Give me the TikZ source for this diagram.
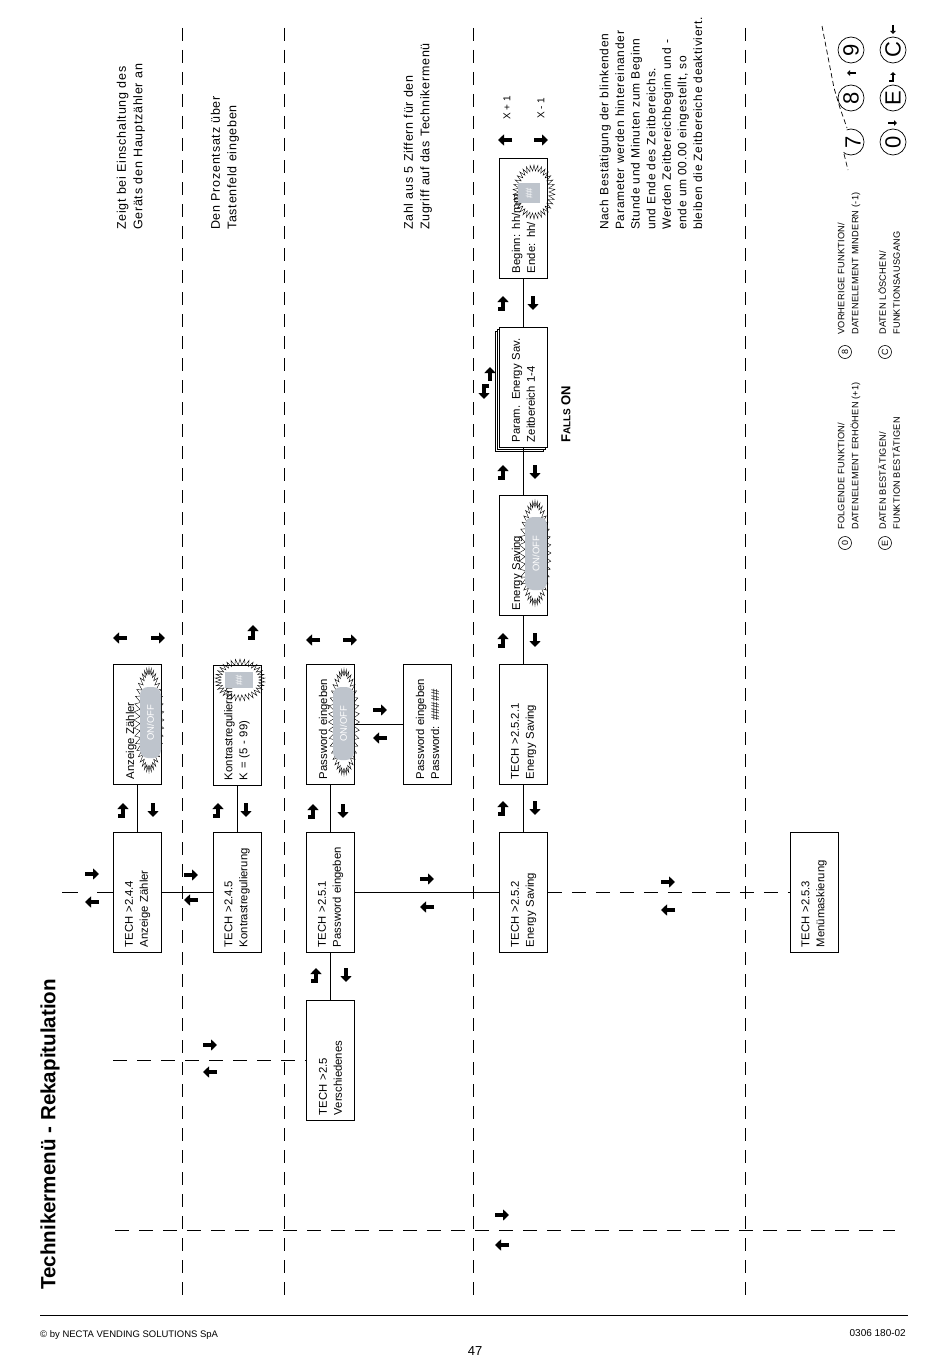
\documentclass[tikz,border=0pt]{standalone}
\usepackage{fontspec}
\setmainfont{Liberation Sans}
\newfontfamily\notefont[LetterSpace=6]{Liberation Sans}
\newfontfamily\legfont[LetterSpace=3]{Liberation Sans}
\usetikzlibrary{shapes.symbols,arrows.meta}
\definecolor{swgray}{RGB}{190,196,204}
\newcommand\arwR[2]{\draw[arw] ({#1-7},{#2}) -- ({#1+7},{#2});}
\newcommand\arwL[2]{\draw[arw] ({#1+7},{#2}) -- ({#1-7},{#2});}
\newcommand\arwD[2]{\draw[arw] ({#1},{#2-7}) -- ({#1},{#2+7});}
\newcommand\arwU[2]{\draw[arw] ({#1},{#2+7}) -- ({#1},{#2-7});}
\newcommand\arwH[2]{\draw[arw] ({#1-5},{#2+6}) -- ({#1},{#2+6}) -- ({#1},{#2-7});}
\newcommand\arwHD[2]{\draw[arw] ({#1+5},{#2-6}) -- ({#1},{#2-6}) -- ({#1},{#2+7});}
\begin{document}
\begin{tikzpicture}[x=1pt,y=-1pt,
  box/.style={draw, line width=0.8pt, rotate=90, minimum width=120pt, minimum height=48pt, text width=110pt, align=left, inner sep=0pt, font=\fontsize{11.3}{15}\selectfont},
  conn/.style={line width=0.7pt},
  dconn/.style={line width=0.7pt, dash pattern=on 14pt off 10pt},
  gridl/.style={line width=0.7pt, dash pattern=on 13pt off 9pt},
  arw/.style={line width=3.8pt, line join=miter, -{Triangle[length=6pt,width=11pt]}},
  arws/.style={line width=1.6pt, -{Triangle[length=3pt,width=5.5pt]}},
  burst/.style={starburst, random starburst=0, starburst points=40, starburst point height=6pt, draw, line width=0.4pt, fill=white, inner sep=0pt},
  swbox/.style={fill=swgray, rounded corners=8pt, rotate=90, text=white, inner sep=0pt, font=\fontsize{9.5}{9.5}\selectfont},
  note/.style={rotate=90, anchor=west, align=left, inner sep=0pt, font=\notefont\fontsize{12.5}{16.5}\selectfont},
  leg/.style={rotate=90, anchor=west, align=left, inner sep=0pt, font=\legfont\fontsize{9.2}{14}\selectfont},
  lcirc/.style={circle, draw, line width=0.6pt, inner sep=0pt, minimum size=13pt, rotate=90, font=\fontsize{9}{9}\selectfont},
  kcirc/.style={circle, draw, line width=0.7pt, inner sep=0pt, minimum size=26pt, rotate=90, font=\fontsize{22}{22}\selectfont},
]
\useasboundingbox (0,0) rectangle (950,1370);

% column separators
\foreach \gx in {182,284,473,745} \draw[gridl] (\gx,28) -- (\gx,1300);

% starbursts
\node[burst, minimum width=30pt, minimum height=104pt] (sb1) at (149,720) {};
\node[burst, starburst points=34, minimum width=50pt, minimum height=42pt] (sb2) at (240,680) {};
\node[burst, minimum width=31pt, minimum height=106pt] (sb3) at (344,722) {};
\node[burst, minimum width=32pt, minimum height=105pt] (sb4) at (535,553) {};
\node[burst, starburst points=34, minimum width=42pt, minimum height=54pt] (sb5) at (534,192) {};

% boxes
\node[box] (b244) at (137.5,892) {TECH >2.4.4\\Anzeige Zähler};
\node[box] (anz) at (137.5,724) {Anzeige Zähler\\~};
\node[box] (b245) at (237,892) {TECH >2.4.5\\Kontrastregulierung};
\node[box] (kon) at (237,725) {Kontrastregulierung\\K = (5 - 99)};
\node[box] (b251) at (330.5,892) {TECH >2.5.1\\Password eingeben};
\node[box] (pw) at (330.5,724) {Password eingeben\\~};
\node[box] (pwn) at (427.5,724) {Password eingeben\\Password: \#\#\#\#\#};
\node[box] (b25) at (330.5,1060) {TECH >2.5\\Verschiedenes};
\node[box] (b252) at (523.5,892) {TECH >2.5.2\\Energy Saving};
\node[box] (b2521) at (523.5,724) {TECH >2.5.2.1\\Energy Saving};
\node[box] (es) at (523.5,555) {Energy Saving\\~};
\node[box, fill=white] (par3) at (519.5,391) {};
\node[box, fill=white] (par2) at (521.5,389) {};
\node[box, fill=white] (par) at (523.5,387) {Param. Energy Sav.\\Zeitbereich 1-4};
\node[box] (beg) at (523.5,218) {Beginn: hh/mm\\Ende: hh/};
\node[box] (b253) at (814,892) {TECH >2.5.3\\Menümaskierung};

% grey value fields
\node[swbox, minimum width=71pt, minimum height=21pt] (sw1) at (150.5,722.5) {ON/OFF};
\node[swbox, rounded corners=0pt, minimum width=16pt, minimum height=28pt] (sw2) at (239,680) {\#\#};
\node[swbox, minimum width=73pt, minimum height=21pt] (sw3) at (343.5,723.5) {ON/OFF};
\node[swbox, minimum width=73pt, minimum height=22pt] (sw4) at (536,553.5) {ON/OFF};
\node[swbox, rounded corners=0pt, minimum width=20pt, minimum height=22pt] (sw5) at (529,193) {\#\#};

% connectors
\draw[conn] (b244.east) -- (anz.west);
\draw[conn] (b244.south) -- (b245.north);
\draw[conn] (b245.east) -- (kon.west);
\draw[conn] (b25.east) -- (b251.west);
\draw[conn] (b251.east) -- (pw.west);
\draw[conn] (pw.south) -- (pwn.north);
\draw[conn] (b251.south) -- (b252.north);
\draw[conn] (b252.east) -- (b2521.west);
\draw[conn] (b2521.east) -- (es.west);
\draw[conn] (es.east) -- (par.west);
\draw[conn] (par.east) -- (beg.west);
\draw[dconn] (b252.south) -- (b253.north);
\coordinate (lft) at (62,892);
\draw[conn, dash pattern=on 16pt off 19pt] (lft) -- (b244.north);
\coordinate (l25) at (113,1060);
\draw[dconn] (l25) -- (b25.north);
\coordinate (h1) at (115,1230);
\coordinate (h2) at (895,1230);
\draw[dconn] (h1) -- (h2);

% arrows
\arwL{120}{638} \arwR{158}{638}
\arwH{123}{810} \arwD{153}{810}
\arwR{92}{874} \arwL{92}{902}
\arwR{191}{875} \arwL{191}{900}
\arwH{253}{632}
\arwH{218}{810} \arwD{246}{810}
\arwL{313}{640} \arwR{350}{640}
\arwH{313}{811} \arwD{343}{811}
\arwR{380}{710} \arwL{380}{738}
\arwH{316}{975} \arwD{346}{975}
\arwR{210}{1045} \arwL{210}{1072}
\arwR{502}{1215} \arwL{502}{1245}
\arwR{427}{879} \arwL{427}{907}
\arwH{503}{808} \arwD{535}{808}
\arwH{503}{640} \arwD{535}{640}
\arwH{503}{472} \arwD{535}{472}
\arwH{503}{303} \arwD{533}{303}
\arwHD{484}{392} \arwU{490}{374}
\arwL{505}{140} \arwR{541}{140}
\arwR{668}{882} \arwL{668}{910}

% small labels
\node[rotate=90, font=\fontsize{10}{10}\selectfont] (xp) at (507,108) {X + 1};
\node[rotate=90, font=\fontsize{10}{10}\selectfont] (xm) at (541,108) {X - 1};
\node[rotate=90, anchor=west, inner sep=0pt] (falls) at (566,443) {\fontsize{13}{13}\selectfont\bfseries F{\fontsize{10}{10}\selectfont ALLS} ON};

% notes
\node[note] (n1) at (131,230) {Zeigt bei Einschaltung des\\Geräts den Hauptzähler an};
\node[note] (n2) at (225,230) {Den Prozentsatz über\\Tastenfeld eingeben};
\node[note] (n3) at (418,230) {Zahl aus 5 Ziffern für den\\Zugriff auf das Technikermenü};
\node[note, font=\notefont\fontsize{12}{15.6}\selectfont] (n4) at (651,230) {Nach Bestätigung der blinkenden\\Parameter werden hintereinander\\Stunde und Minuten zum Beginn\\und Ende des Zeitbereichs.\\Werden Zeitbereichbeginn und -\\ende um 00.00 eingestellt, so\\bleiben die Zeitbereiche deaktiviert.};

% title
\node[rotate=90, anchor=west, inner sep=0pt, font=\fontsize{20.6}{24}\selectfont\bfseries] (title) at (50,1290) {Technikermenü - Rekapitulation};

% legend
\node[lcirc] (l0) at (845,543) {0};
\node[lcirc] (l8) at (845,352) {8};
\node[lcirc] (lE) at (885,543) {E};
\node[lcirc] (lC) at (885,352) {C};
\node[leg] (t0) at (849,530) {FOLGENDE FUNKTION/\\DATENELEMENT ERHÖHEN (+1)};
\node[leg] (t8) at (849,335) {VORHERIGE FUNKTION/\\DATENELEMENT MINDERN (-1)};
\node[leg] (tE) at (889,530) {DATEN BESTÄTIGEN/\\FUNKTION BESTÄTIGEN};
\node[leg] (tC) at (889,335) {DATEN LÖSCHEN/\\FUNKTIONSAUSGANG};

% keypad
\node[kcirc] (k9) at (851,50) {9};
\node[kcirc] (k8) at (851,98) {8};
\node[kcirc] (kC) at (893,50) {C};
\node[kcirc] (kE) at (893,98) {E};
\node[kcirc] (k0) at (893,142) {0};
\begin{scope}
\clip (849,112) -- (847,128) -- (843,156) -- (843,175) -- (880,175) -- (880,112) -- cycle;
\node[kcirc] (k7c) at (851,142) {};
\end{scope}
\node[rotate=90, inner sep=0pt, font=\fontsize{22}{22}\selectfont] (k7) at (853,142) {7};
\draw[line width=0.7pt, dash pattern=on 5pt off 3pt] (822,26) -- (834,88) -- (840,108) -- (847,128);
\draw[line width=0.7pt, dash pattern=on 5pt off 3pt] (844,154) -- (848,170);
\draw[arws] (856,73) -- (847,73);
\draw[arws] (888,123) -- (897,123);
\draw[arws] (889,81) -- (893,81) -- (893,72);
\draw[arws] (893,25) -- (893,34);

% footer
\draw[line width=0.8pt] (40,1315) -- (908,1315);
\node[anchor=west, inner sep=0pt, font=\fontsize{9.5}{10}\selectfont] (copy) at (40,1335) {© by NECTA VENDING SOLUTIONS SpA};
\node[anchor=east, inner sep=0pt, font=\fontsize{10}{10}\selectfont] (code) at (906,1333) {0306 180-02};
\node[inner sep=0pt, font=\fontsize{13}{13}\selectfont] (page) at (475,1351) {47};
\end{tikzpicture}
\end{document}
